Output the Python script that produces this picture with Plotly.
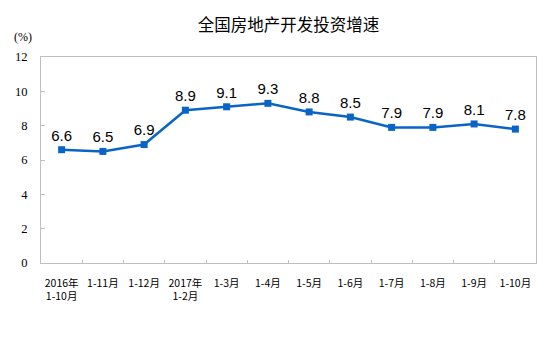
import plotly.graph_objects as go

categories = ["2016年<br>1-10月", "1-11月", "1-12月", "2017年<br>1-2月", "1-3月", "1-4月",
              "1-5月", "1-6月", "1-7月", "1-8月", "1-9月", "1-10月"]
growth = [6.6, 6.5, 6.9, 8.9, 9.1, 9.3, 8.8, 8.5, 7.9, 7.9, 8.1, 7.8]
labels = [f"{v:.1f}" for v in growth]

blue = "#0a64c8"
gray = "#bfbfbf"

fig = go.Figure(go.Scatter(
    x=categories, y=growth, mode="lines+markers+text",
    text=labels, textposition="top center",
    textfont=dict(family="Liberation Sans, Arial", size=15, color="#000000"),
    line=dict(color=blue, width=2.5),
    marker=dict(symbol="square", size=7, color=blue),
    cliponaxis=False,
))

fig.update_layout(
    template="none",
    width=554, height=339,
    margin=dict(l=41, r=18, t=57, b=76, autoexpand=False),
    paper_bgcolor="white", plot_bgcolor="white",
    showlegend=False,
    title=dict(text="全国房地产开发投资增速", x=0.5, xref="paper", y=0.925, yref="container",
               xanchor="center", yanchor="middle",
               font=dict(family="Noto Sans CJK SC", size=16.5, color="#000000")),
    xaxis=dict(type="category", range=[-0.5, 11.5], tickson="boundaries", ticks="inside", ticklen=3,
               tickcolor=gray, showline=True, linecolor=gray, linewidth=1, mirror=True,
               showgrid=False, zeroline=False, tickangle=0, ticklabelstandoff=10,
               automargin=False,
               tickfont=dict(family="Noto Sans CJK SC", size=10.5, color="#000000")),
    yaxis=dict(range=[0, 12], dtick=2, ticks="inside", ticklen=4, tickcolor=gray,
               showline=True, linecolor=gray, linewidth=1, mirror=True,
               showgrid=False, zeroline=False, ticklabelstandoff=10, automargin=False,
               tickfont=dict(family="Liberation Serif", size=12.5, color="#000000")),
    annotations=[dict(text="(%)", x=(23 - 41) / (554 - 41 - 18), y=(339 - 76 - 37) / (339 - 57 - 76),
                      xref="paper", yref="paper", xanchor="center", yanchor="middle",
                      showarrow=False, font=dict(family="Liberation Serif", size=12, color="#000000"))],
)

fig.write_html("out.html")
